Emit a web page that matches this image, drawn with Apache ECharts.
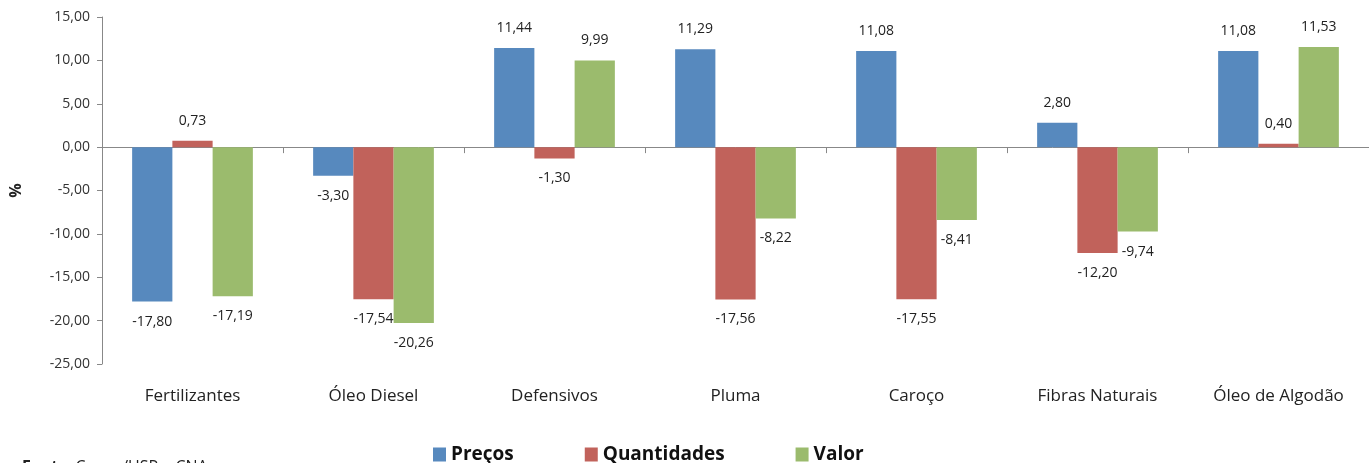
<!DOCTYPE html>
<html>
<head>
<meta charset="utf-8">
<script src="https://cdn.jsdelivr.net/npm/echarts@6/dist/echarts.min.js"></script>
<style>
  html, body { margin: 0; padding: 0; background: #fff; }
  #chart { width: 1369px; height: 463px; }
</style>
</head>
<body>
<div id="chart"></div>
<script>
// Produtos e variação percentual
const categories = ['Fertilizantes', 'Óleo Diesel', 'Defensivos', 'Pluma', 'Caroço', 'Fibras Naturais', 'Óleo de Algodão'];
const precos = [-17.80, -3.30, 11.44, 11.29, 11.08, 2.80, 11.08];
const quantidades = [0.73, -17.54, -1.30, -17.56, -17.55, -12.20, 0.40];
const valor = [-17.19, -20.26, 9.99, -8.22, -8.41, -9.74, 11.53];
const seriesNames = ['Preços', 'Quantidades', 'Valor'];
const colors = ['#5789BE', '#C1625B', '#9BBB6D'];

const FONT = '"Open Sans", Lato, sans-serif';
const fmt = v => v.toFixed(2).replace('.', ',');

const chart = echarts.init(document.getElementById('chart'), null, { renderer: 'canvas' });

function barSeries(name, data, color) {
  return {
    name: name,
    type: 'bar',
    xAxisIndex: 0,
    barGap: '0%',
    barCategoryGap: '33.3%',
    itemStyle: { color: color },
    data: data.map(v => ({
      value: v,
      label: { position: v >= 0 ? 'top' : 'bottom' }
    })),
    label: {
      show: true,
      distance: 13,
      fontFamily: FONT,
      fontSize: 14,
      color: '#222',
      formatter: p => fmt(p.value)
    }
  };
}

chart.setOption({
  animation: false,
  textStyle: { fontFamily: FONT },
  grid: { left: 99, top: 17, width: 1275, bottom: 99, containLabel: false },
  legend: {
    left: 428,
    top: 440,
    itemWidth: 13,
    itemHeight: 14,
    itemGap: 71,
    icon: 'rect',
    textStyle: { fontFamily: FONT, fontSize: 19, fontWeight: 'bold', color: '#111' },
    data: seriesNames
  },
  xAxis: [
    {
      type: 'category',
      data: categories,
      position: 'bottom',
      axisLine: { show: false, onZero: false },
      axisTick: { show: false },
      axisLabel: { fontFamily: FONT, fontSize: 17, color: '#222', margin: 24 }
    },
    {
      type: 'category',
      data: categories,
      position: 'bottom',
      axisLine: { show: true, onZero: true, lineStyle: { color: '#888', width: 1 } },
      axisTick: { show: true, length: 6, lineStyle: { color: '#888' } },
      axisLabel: { show: false }
    }
  ],
  yAxis: {
    type: 'value',
    min: -25,
    max: 15,
    interval: 5,
    name: '%',
    nameLocation: 'middle',
    nameGap: 78,
    nameRotate: 90,
    nameTextStyle: { fontFamily: FONT, fontSize: 16, fontWeight: 'bold', color: '#222' },
    axisLine: { show: true, lineStyle: { color: '#888' } },
    axisTick: { show: true, length: 5, lineStyle: { color: '#888' } },
    splitLine: { show: false },
    axisLabel: { fontFamily: FONT, fontSize: 14, color: '#333', margin: 12, formatter: v => fmt(v) }
  },
  graphic: [
    {
      type: 'text',
      left: 22,
      top: 459,
      style: {
        rich: {
          b: { fontFamily: FONT, fontSize: 16, fontWeight: 'bold', fill: '#222' },
          n: { fontFamily: FONT, fontSize: 16, fill: '#222' }
        },
        text: '{b|Fonte:} {n|Cepea/USP e CNA}'
      }
    }
  ],
  series: [
    barSeries(seriesNames[0], precos, colors[0]),
    barSeries(seriesNames[1], quantidades, colors[1]),
    barSeries(seriesNames[2], valor, colors[2])
  ]
});
</script>
</body>
</html>
